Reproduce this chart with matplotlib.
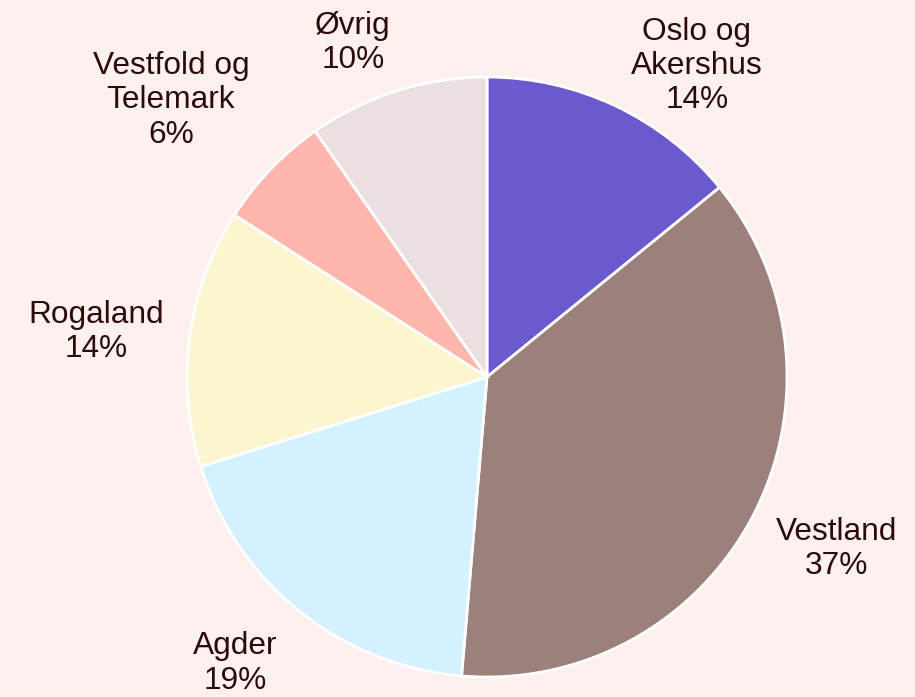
import matplotlib.pyplot as plt
import numpy as np

regions = ['Oslo og\nAkershus', 'Vestland', 'Agder', 'Rogaland',
           'Vestfold og\nTelemark', 'Øvrig']
shares = [14.1, 37.2, 18.8, 13.9, 6.2, 9.7]
colors = ['#6a5acd', '#9b807c', '#d4f1ff', '#fcf6d0', '#ffb6ad', '#ebe0e0']

# label placement: (distance from centre in radii, angle shift in degrees)
label_place = [(1.25, -8.6), (1.30, 1.6), (1.272, -2.6), (1.31, 1.1),
               (1.40, 2.7), (1.20, 4.4)]

plt.rcParams['font.family'] = ['Liberation Sans', 'DejaVu Sans']
text_color = '#2b0a0a'
bg = '#fff0f0'

W, H = 915, 697
cx, cy, R = 487, 377, 300

fig = plt.figure(figsize=(W / 100, H / 100), dpi=100, facecolor=bg)
ax = fig.add_axes([0, 0, 1, 1])
ax.set_facecolor(bg)

wedges, _ = ax.pie(shares, colors=colors, startangle=90, counterclock=False,
                   wedgeprops=dict(edgecolor='white', linewidth=2.0))

total = sum(shares)
for w, name, v, (r, shift) in zip(wedges, regions, shares, label_place):
    mid = np.deg2rad((w.theta1 + w.theta2) / 2 + shift)
    ax.text(r * np.cos(mid), r * np.sin(mid),
            f"{name}\n{round(v / total * 100)}%",
            ha='center', va='center', fontsize=22.8, color=text_color,
            linespacing=1.18)

ax.set_xlim(-cx / R, (W - cx) / R)
ax.set_ylim(-(H - cy) / R, cy / R)
ax.set_aspect('auto')
ax.axis('off')

fig.savefig('out.png', dpi=100, facecolor=bg)
